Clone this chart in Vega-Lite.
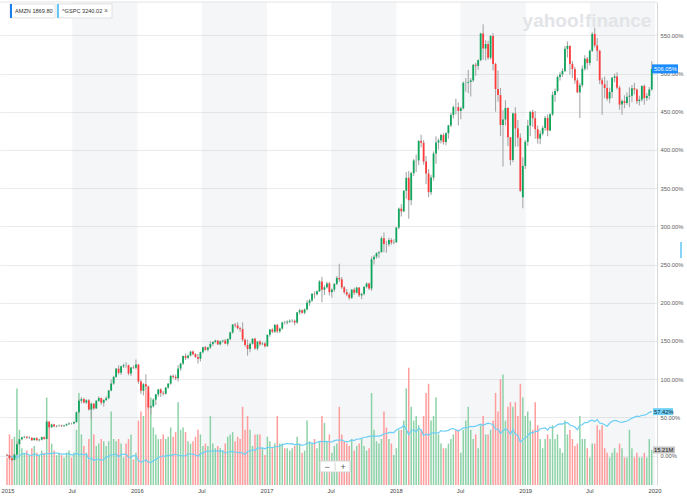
{
  "$schema": "https://vega.github.io/schema/vega-lite/v6.json",
  "width": 657,
  "height": 483,
  "autosize": "none",
  "padding": {"left": 0, "top": 2, "right": 30, "bottom": 15},
  "background": "#ffffff",
  "config": {"view": {"stroke": null}, "font": "Liberation Sans"},
  "datasets": {
    "halves": [
      {"a": "2015-07-01", "b": "2016-01-01"},
      {"a": "2016-07-01", "b": "2017-01-01"},
      {"a": "2017-07-01", "b": "2018-01-01"},
      {"a": "2018-07-01", "b": "2019-01-01"},
      {"a": "2019-07-01", "b": "2020-01-01"}
    ],
    "dateTicks": [
      {"t": "2015-01-01", "lab": "2015"},
      {"t": "2015-07-01", "lab": "Jul"},
      {"t": "2016-01-01", "lab": "2016"},
      {"t": "2016-07-01", "lab": "Jul"},
      {"t": "2017-01-01", "lab": "2017"},
      {"t": "2017-07-01", "lab": "Jul"},
      {"t": "2018-01-01", "lab": "2018"},
      {"t": "2018-07-01", "lab": "Jul"},
      {"t": "2019-01-01", "lab": "2019"},
      {"t": "2019-07-01", "lab": "Jul"},
      {"t": "2020-01-01", "lab": "2020"}
    ],
    "weekly": [
      {"d":"2014-12-29","o":1.0,"h":2.0,"l":-0.5,"c":0.0,"v":12,"s":0.0},
      {"d":"2015-01-05","o":0.0,"h":0.8,"l":-6.0,"c":-3.8,"v":22,"s":-0.7},
      {"d":"2015-01-12","o":-3.8,"h":-1.5,"l":-7.8,"c":-5.8,"v":20,"s":-1.9},
      {"d":"2015-01-19","o":-5.8,"h":2.5,"l":-6.5,"c":1.3,"v":21,"s":-0.3},
      {"d":"2015-01-26","o":1.3,"h":18.0,"l":-0.5,"c":14.9,"v":42,"s":-3.1},
      {"d":"2015-02-02","o":14.9,"h":22.5,"l":13.5,"c":21.3,"v":24,"s":-0.1},
      {"d":"2015-02-09","o":21.3,"h":25.0,"l":20.0,"c":23.8,"v":16,"s":1.9},
      {"d":"2015-02-16","o":23.8,"h":26.0,"l":22.5,"c":24.4,"v":14,"s":2.5},
      {"d":"2015-02-23","o":24.4,"h":26.0,"l":22.0,"c":23.2,"v":15,"s":2.3},
      {"d":"2015-03-02","o":23.0,"h":25.5,"l":21.5,"c":23.2,"v":13,"s":0.6},
      {"d":"2015-03-09","o":23.2,"h":24.0,"l":19.0,"c":20.1,"v":16,"s":-0.2},
      {"d":"2015-03-16","o":20.1,"h":23.5,"l":19.5,"c":22.7,"v":17,"s":2.4},
      {"d":"2015-03-23","o":22.7,"h":24.0,"l":19.0,"c":20.1,"v":14,"s":0.1},
      {"d":"2015-03-30","o":20.1,"h":21.8,"l":18.5,"c":20.7,"v":13,"s":0.4},
      {"d":"2015-04-06","o":20.7,"h":25.0,"l":19.8,"c":24.0,"v":15,"s":2.1},
      {"d":"2015-04-13","o":24.0,"h":25.0,"l":20.5,"c":21.7,"v":14,"s":1.1},
      {"d":"2015-04-20","o":21.7,"h":46.5,"l":21.0,"c":44.3,"v":38,"s":2.9},
      {"d":"2015-04-27","o":44.3,"h":45.0,"l":35.5,"c":37.1,"v":26,"s":2.4},
      {"d":"2015-05-04","o":37.1,"h":41.5,"l":35.8,"c":40.6,"v":18,"s":2.8},
      {"d":"2015-05-11","o":40.6,"h":41.5,"l":37.0,"c":38.1,"v":15,"s":3.1},
      {"d":"2015-05-18","o":38.1,"h":40.0,"l":37.0,"c":38.6,"v":13,"s":3.3},
      {"d":"2015-05-25","o":38.6,"h":40.5,"l":37.5,"c":39.1,"v":14,"s":2.4},
      {"d":"2015-06-01","o":39.1,"h":40.5,"l":37.2,"c":38.4,"v":13,"s":1.7},
      {"d":"2015-06-08","o":38.4,"h":40.3,"l":37.5,"c":39.4,"v":12,"s":1.7},
      {"d":"2015-06-15","o":39.4,"h":42.0,"l":38.5,"c":41.0,"v":14,"s":2.5},
      {"d":"2015-06-22","o":41.0,"h":43.5,"l":40.2,"c":42.0,"v":15,"s":2.1},
      {"d":"2015-06-29","o":42.0,"h":43.0,"l":40.5,"c":41.9,"v":12,"s":0.9},
      {"d":"2015-07-06","o":41.9,"h":45.0,"l":40.8,"c":43.8,"v":14,"s":0.9},
      {"d":"2015-07-13","o":43.8,"h":57.5,"l":43.0,"c":56.6,"v":24,"s":3.3},
      {"d":"2015-07-20","o":56.6,"h":74.0,"l":55.0,"c":71.6,"v":40,"s":1.0},
      {"d":"2015-07-27","o":71.6,"h":76.5,"l":68.5,"c":73.8,"v":22,"s":2.2},
      {"d":"2015-08-03","o":73.8,"h":75.5,"l":68.0,"c":69.4,"v":17,"s":0.9},
      {"d":"2015-08-10","o":69.4,"h":73.5,"l":67.5,"c":72.3,"v":14,"s":1.6},
      {"d":"2015-08-17","o":72.3,"h":74.0,"l":59.0,"c":60.3,"v":20,"s":-4.2},
      {"d":"2015-08-24","o":60.3,"h":69.5,"l":47.0,"c":67.9,"v":34,"s":-3.4},
      {"d":"2015-08-31","o":67.9,"h":68.5,"l":59.5,"c":61.7,"v":22,"s":-6.7},
      {"d":"2015-09-07","o":61.7,"h":72.5,"l":61.0,"c":71.6,"v":17,"s":-4.7},
      {"d":"2015-09-14","o":71.6,"h":77.5,"l":70.0,"c":75.1,"v":18,"s":-4.9},
      {"d":"2015-09-21","o":75.1,"h":76.0,"l":66.5,"c":69.1,"v":20,"s":-6.2},
      {"d":"2015-09-28","o":69.1,"h":73.5,"l":64.0,"c":72.6,"v":19,"s":-5.2},
      {"d":"2015-10-05","o":72.6,"h":77.5,"l":71.5,"c":75.0,"v":17,"s":-2.1},
      {"d":"2015-10-12","o":75.0,"h":86.0,"l":73.5,"c":85.0,"v":19,"s":-1.2},
      {"d":"2015-10-19","o":85.0,"h":99.5,"l":84.0,"c":94.2,"v":32,"s":0.8},
      {"d":"2015-10-26","o":94.2,"h":104.5,"l":92.5,"c":102.9,"v":20,"s":1.0},
      {"d":"2015-11-02","o":102.9,"h":114.5,"l":101.5,"c":113.7,"v":19,"s":2.0},
      {"d":"2015-11-09","o":113.7,"h":118.0,"l":106.0,"c":108.2,"v":20,"s":-1.7},
      {"d":"2015-11-16","o":108.2,"h":117.5,"l":105.5,"c":116.7,"v":18,"s":1.5},
      {"d":"2015-11-23","o":116.7,"h":120.0,"l":114.5,"c":118.2,"v":12,"s":1.6},
      {"d":"2015-11-30","o":118.2,"h":122.0,"l":115.0,"c":118.0,"v":18,"s":1.6},
      {"d":"2015-12-07","o":118.0,"h":119.0,"l":105.0,"c":107.5,"v":20,"s":-2.2},
      {"d":"2015-12-14","o":107.5,"h":116.0,"l":104.0,"c":115.3,"v":22,"s":-2.6},
      {"d":"2015-12-21","o":115.3,"h":118.0,"l":113.0,"c":114.8,"v":11,"s":0.1},
      {"d":"2015-12-28","o":114.8,"h":125.7,"l":113.0,"c":119.1,"v":14,"s":-0.7},
      {"d":"2016-01-04","o":119.1,"h":119.5,"l":94.0,"c":96.8,"v":28,"s":-6.6},
      {"d":"2016-01-11","o":96.8,"h":99.5,"l":80.5,"c":84.8,"v":32,"s":-8.6},
      {"d":"2016-01-18","o":84.8,"h":95.0,"l":78.5,"c":93.3,"v":30,"s":-7.4},
      {"d":"2016-01-25","o":93.3,"h":106.5,"l":87.0,"c":90.3,"v":42,"s":-5.7},
      {"d":"2016-02-01","o":90.3,"h":91.5,"l":60.5,"c":62.8,"v":40,"s":-8.7},
      {"d":"2016-02-08","o":62.8,"h":66.0,"l":53.6,"c":64.4,"v":38,"s":-9.4},
      {"d":"2016-02-15","o":64.4,"h":75.0,"l":63.0,"c":73.1,"v":25,"s":-6.8},
      {"d":"2016-02-22","o":73.1,"h":80.5,"l":66.0,"c":80.0,"v":22,"s":-5.4},
      {"d":"2016-02-29","o":80.0,"h":87.5,"l":77.0,"c":86.4,"v":20,"s":-2.8},
      {"d":"2016-03-07","o":86.4,"h":88.0,"l":76.5,"c":81.8,"v":20,"s":-1.7},
      {"d":"2016-03-14","o":81.8,"h":84.5,"l":78.5,"c":80.9,"v":22,"s":-0.4},
      {"d":"2016-03-21","o":80.9,"h":89.5,"l":79.5,"c":89.0,"v":20,"s":-1.1},
      {"d":"2016-03-28","o":89.0,"h":95.0,"l":87.5,"c":94.0,"v":21,"s":0.7},
      {"d":"2016-04-04","o":94.0,"h":105.5,"l":92.5,"c":104.2,"v":25,"s":-0.5},
      {"d":"2016-04-11","o":104.2,"h":106.0,"l":100.5,"c":102.9,"v":21,"s":1.1},
      {"d":"2016-04-18","o":102.9,"h":106.0,"l":98.5,"c":101.1,"v":23,"s":1.6},
      {"d":"2016-04-25","o":101.1,"h":118.0,"l":97.0,"c":113.8,"v":36,"s":0.3},
      {"d":"2016-05-02","o":113.8,"h":121.5,"l":111.0,"c":120.3,"v":24,"s":-0.1},
      {"d":"2016-05-09","o":120.3,"h":131.0,"l":118.5,"c":130.1,"v":25,"s":-0.6},
      {"d":"2016-05-16","o":130.1,"h":133.5,"l":125.0,"c":127.8,"v":23,"s":-0.3},
      {"d":"2016-05-23","o":127.8,"h":132.0,"l":126.0,"c":130.9,"v":19,"s":2.0},
      {"d":"2016-05-30","o":130.9,"h":137.0,"l":129.5,"c":136.0,"v":18,"s":2.0},
      {"d":"2016-06-06","o":136.0,"h":137.5,"l":131.0,"c":132.7,"v":19,"s":1.8},
      {"d":"2016-06-13","o":132.7,"h":134.0,"l":127.5,"c":129.0,"v":21,"s":0.6},
      {"d":"2016-06-20","o":129.0,"h":133.0,"l":120.5,"c":126.6,"v":24,"s":-1.0},
      {"d":"2016-06-27","o":126.6,"h":136.0,"l":123.0,"c":135.2,"v":22,"s":2.2},
      {"d":"2016-07-04","o":135.2,"h":142.5,"l":133.5,"c":141.7,"v":17,"s":3.5},
      {"d":"2016-07-11","o":141.7,"h":143.5,"l":137.0,"c":138.4,"v":18,"s":5.0},
      {"d":"2016-07-18","o":138.4,"h":142.5,"l":136.0,"c":141.4,"v":17,"s":5.7},
      {"d":"2016-07-25","o":141.4,"h":149.5,"l":139.5,"c":146.0,"v":30,"s":5.6},
      {"d":"2016-08-01","o":146.0,"h":149.5,"l":143.5,"c":148.5,"v":18,"s":6.1},
      {"d":"2016-08-08","o":148.5,"h":151.5,"l":147.0,"c":150.4,"v":16,"s":6.1},
      {"d":"2016-08-15","o":150.4,"h":151.0,"l":144.5,"c":145.5,"v":17,"s":6.1},
      {"d":"2016-08-22","o":145.5,"h":150.5,"l":144.0,"c":149.4,"v":16,"s":5.4},
      {"d":"2016-08-29","o":149.4,"h":151.5,"l":147.5,"c":150.4,"v":15,"s":5.9},
      {"d":"2016-09-05","o":150.4,"h":152.5,"l":145.5,"c":146.4,"v":18,"s":3.4},
      {"d":"2016-09-12","o":146.4,"h":153.5,"l":143.5,"c":152.3,"v":21,"s":3.9},
      {"d":"2016-09-19","o":152.3,"h":162.0,"l":151.0,"c":161.2,"v":22,"s":5.2},
      {"d":"2016-09-26","o":161.2,"h":172.0,"l":159.5,"c":171.4,"v":23,"s":5.3},
      {"d":"2016-10-03","o":171.4,"h":173.5,"l":167.5,"c":170.3,"v":19,"s":4.6},
      {"d":"2016-10-10","o":170.3,"h":174.5,"l":165.0,"c":166.7,"v":21,"s":3.6},
      {"d":"2016-10-17","o":166.7,"h":168.5,"l":162.0,"c":165.5,"v":20,"s":4.0},
      {"d":"2016-10-24","o":165.5,"h":174.5,"l":149.0,"c":151.6,"v":34,"s":3.3},
      {"d":"2016-10-31","o":151.6,"h":153.0,"l":142.5,"c":144.7,"v":24,"s":1.3},
      {"d":"2016-11-07","o":144.7,"h":152.0,"l":130.5,"c":139.5,"v":30,"s":5.2},
      {"d":"2016-11-14","o":139.5,"h":148.0,"l":135.0,"c":146.4,"v":24,"s":6.0},
      {"d":"2016-11-21","o":146.4,"h":153.5,"l":145.0,"c":152.9,"v":17,"s":7.5},
      {"d":"2016-11-28","o":152.9,"h":154.0,"l":138.5,"c":140.0,"v":22,"s":6.5},
      {"d":"2016-12-05","o":140.0,"h":150.0,"l":137.5,"c":149.1,"v":22,"s":9.8},
      {"d":"2016-12-12","o":149.1,"h":151.0,"l":143.5,"c":145.6,"v":22,"s":9.7},
      {"d":"2016-12-19","o":145.6,"h":148.5,"l":144.5,"c":146.5,"v":16,"s":10.0},
      {"d":"2016-12-26","o":146.5,"h":148.5,"l":141.5,"c":143.1,"v":13,"s":8.8},
      {"d":"2017-01-02","o":143.1,"h":158.5,"l":142.0,"c":158.0,"v":21,"s":10.6},
      {"d":"2017-01-09","o":158.0,"h":165.5,"l":155.5,"c":164.9,"v":19,"s":10.5},
      {"d":"2017-01-16","o":164.9,"h":166.5,"l":160.0,"c":162.0,"v":16,"s":10.4},
      {"d":"2017-01-23","o":162.0,"h":172.0,"l":160.5,"c":170.9,"v":18,"s":11.5},
      {"d":"2017-01-30","o":170.9,"h":172.5,"l":160.0,"c":162.6,"v":30,"s":11.6},
      {"d":"2017-02-06","o":162.6,"h":167.5,"l":160.5,"c":166.2,"v":18,"s":12.5},
      {"d":"2017-02-13","o":166.2,"h":175.0,"l":164.5,"c":174.2,"v":18,"s":14.2},
      {"d":"2017-02-20","o":174.2,"h":176.5,"l":171.5,"c":174.0,"v":16,"s":15.0},
      {"d":"2017-02-27","o":174.0,"h":177.0,"l":171.5,"c":175.2,"v":16,"s":15.8},
      {"d":"2017-03-06","o":175.2,"h":178.0,"l":173.5,"c":176.3,"v":15,"s":15.3},
      {"d":"2017-03-13","o":176.0,"h":178.5,"l":174.0,"c":176.3,"v":16,"s":15.5},
      {"d":"2017-03-20","o":176.3,"h":178.0,"l":170.5,"c":174.1,"v":17,"s":13.9},
      {"d":"2017-03-27","o":174.1,"h":188.0,"l":172.5,"c":187.4,"v":21,"s":14.8},
      {"d":"2017-04-03","o":187.4,"h":192.0,"l":184.5,"c":190.1,"v":18,"s":14.4},
      {"d":"2017-04-10","o":190.1,"h":191.0,"l":185.5,"c":186.8,"v":14,"s":13.2},
      {"d":"2017-04-17","o":186.8,"h":192.5,"l":185.0,"c":191.2,"v":15,"s":14.1},
      {"d":"2017-04-24","o":191.2,"h":203.5,"l":190.0,"c":199.8,"v":28,"s":15.8},
      {"d":"2017-05-01","o":199.8,"h":205.0,"l":196.0,"c":202.8,"v":19,"s":16.6},
      {"d":"2017-05-08","o":202.8,"h":212.5,"l":201.0,"c":211.6,"v":18,"s":16.2},
      {"d":"2017-05-15","o":211.6,"h":215.0,"l":205.5,"c":211.1,"v":20,"s":15.7},
      {"d":"2017-05-22","o":211.1,"h":216.0,"l":209.5,"c":214.9,"v":16,"s":17.4},
      {"d":"2017-05-29","o":214.9,"h":229.5,"l":214.0,"c":227.8,"v":19,"s":18.5},
      {"d":"2017-06-05","o":227.8,"h":234.0,"l":200.5,"c":217.1,"v":30,"s":18.1},
      {"d":"2017-06-12","o":217.1,"h":223.0,"l":210.0,"c":220.1,"v":27,"s":18.2},
      {"d":"2017-06-19","o":220.1,"h":227.5,"l":218.5,"c":225.3,"v":19,"s":18.5},
      {"d":"2017-06-26","o":225.3,"h":227.0,"l":209.5,"c":213.8,"v":22,"s":17.7},
      {"d":"2017-07-03","o":213.8,"h":218.5,"l":206.5,"c":217.2,"v":14,"s":17.8},
      {"d":"2017-07-10","o":217.2,"h":225.5,"l":214.0,"c":224.7,"v":17,"s":19.5},
      {"d":"2017-07-17","o":224.7,"h":235.0,"l":223.0,"c":232.5,"v":18,"s":20.1},
      {"d":"2017-07-24","o":232.5,"h":251.1,"l":227.0,"c":230.6,"v":34,"s":20.1},
      {"d":"2017-07-31","o":230.6,"h":233.5,"l":218.0,"c":220.1,"v":22,"s":20.3},
      {"d":"2017-08-07","o":220.1,"h":222.0,"l":211.5,"c":213.8,"v":19,"s":18.6},
      {"d":"2017-08-14","o":213.8,"h":218.0,"l":208.5,"c":210.7,"v":18,"s":17.8},
      {"d":"2017-08-21","o":210.7,"h":213.5,"l":204.0,"c":206.4,"v":17,"s":18.7},
      {"d":"2017-08-28","o":206.4,"h":218.0,"l":205.0,"c":217.1,"v":20,"s":20.3},
      {"d":"2017-09-04","o":217.1,"h":219.5,"l":210.5,"c":213.1,"v":15,"s":19.6},
      {"d":"2017-09-11","o":213.1,"h":221.0,"l":212.0,"c":219.8,"v":17,"s":21.5},
      {"d":"2017-09-18","o":219.8,"h":220.5,"l":207.5,"c":209.6,"v":18,"s":21.6},
      {"d":"2017-09-25","o":209.6,"h":213.0,"l":204.5,"c":211.6,"v":20,"s":22.4},
      {"d":"2017-10-02","o":211.6,"h":221.5,"l":209.5,"c":220.8,"v":17,"s":23.9},
      {"d":"2017-10-09","o":220.8,"h":226.5,"l":219.0,"c":225.1,"v":15,"s":24.0},
      {"d":"2017-10-16","o":225.1,"h":226.0,"l":216.5,"c":218.6,"v":16,"s":25.1},
      {"d":"2017-10-23","o":218.6,"h":260.5,"l":215.5,"c":256.9,"v":40,"s":25.4},
      {"d":"2017-10-30","o":256.9,"h":262.5,"l":250.0,"c":260.3,"v":24,"s":25.7},
      {"d":"2017-11-06","o":260.3,"h":266.0,"l":257.5,"c":264.8,"v":19,"s":25.5},
      {"d":"2017-11-13","o":264.8,"h":268.0,"l":258.5,"c":266.2,"v":18,"s":25.3},
      {"d":"2017-11-20","o":266.2,"h":287.0,"l":265.5,"c":284.4,"v":20,"s":26.4},
      {"d":"2017-11-27","o":284.4,"h":292.0,"l":266.0,"c":276.8,"v":32,"s":28.4},
      {"d":"2017-12-04","o":276.8,"h":281.0,"l":265.5,"c":276.6,"v":25,"s":28.8},
      {"d":"2017-12-11","o":276.6,"h":285.0,"l":273.5,"c":282.2,"v":20,"s":30.0},
      {"d":"2017-12-18","o":282.2,"h":284.5,"l":276.0,"c":278.7,"v":18,"s":30.4},
      {"d":"2017-12-25","o":278.7,"h":283.0,"l":276.5,"c":279.1,"v":13,"s":29.9},
      {"d":"2018-01-01","o":279.1,"h":299.0,"l":278.5,"c":298.4,"v":16,"s":33.3},
      {"d":"2018-01-08","o":298.4,"h":324.5,"l":296.0,"c":323.1,"v":24,"s":35.4},
      {"d":"2018-01-15","o":323.1,"h":329.0,"l":313.0,"c":319.6,"v":24,"s":36.5},
      {"d":"2018-01-22","o":319.6,"h":347.0,"l":318.5,"c":346.6,"v":28,"s":39.6},
      {"d":"2018-01-29","o":346.6,"h":371.0,"l":336.0,"c":363.5,"v":42,"s":34.2},
      {"d":"2018-02-05","o":363.5,"h":372.5,"l":310.0,"c":334.2,"v":51,"s":27.3},
      {"d":"2018-02-12","o":334.2,"h":371.5,"l":327.5,"c":369.6,"v":34,"s":32.7},
      {"d":"2018-02-19","o":369.6,"h":388.0,"l":366.0,"c":386.2,"v":28,"s":33.5},
      {"d":"2018-02-26","o":386.2,"h":394.0,"l":371.0,"c":386.3,"v":30,"s":30.8},
      {"d":"2018-03-05","o":386.3,"h":412.5,"l":380.0,"c":411.8,"v":26,"s":35.4},
      {"d":"2018-03-12","o":411.8,"h":420.0,"l":403.5,"c":409.4,"v":24,"s":33.7},
      {"d":"2018-03-19","o":409.4,"h":413.0,"l":380.5,"c":384.8,"v":30,"s":25.8},
      {"d":"2018-03-26","o":384.8,"h":392.0,"l":355.0,"c":369.1,"v":40,"s":28.3},
      {"d":"2018-04-02","o":369.1,"h":375.0,"l":338.2,"c":344.7,"v":44,"s":26.5},
      {"d":"2018-04-09","o":344.7,"h":367.5,"l":341.0,"c":363.8,"v":28,"s":29.1},
      {"d":"2018-04-16","o":363.8,"h":398.0,"l":360.0,"c":395.2,"v":30,"s":29.7},
      {"d":"2018-04-23","o":395.2,"h":418.0,"l":382.0,"c":409.7,"v":38,"s":29.7},
      {"d":"2018-04-30","o":409.7,"h":415.0,"l":400.5,"c":412.4,"v":22,"s":29.4},
      {"d":"2018-05-07","o":412.4,"h":421.0,"l":408.5,"c":419.6,"v":18,"s":32.5},
      {"d":"2018-05-14","o":419.6,"h":422.0,"l":407.0,"c":410.3,"v":16,"s":31.8},
      {"d":"2018-05-21","o":410.3,"h":423.0,"l":406.0,"c":421.9,"v":16,"s":32.2},
      {"d":"2018-05-28","o":421.9,"h":433.0,"l":414.5,"c":432.1,"v":18,"s":32.9},
      {"d":"2018-06-04","o":432.1,"h":448.5,"l":430.0,"c":445.8,"v":20,"s":35.0},
      {"d":"2018-06-11","o":445.8,"h":458.0,"l":441.0,"c":456.2,"v":22,"s":35.1},
      {"d":"2018-06-18","o":456.2,"h":467.0,"l":446.5,"c":456.1,"v":24,"s":33.8},
      {"d":"2018-06-25","o":456.1,"h":462.5,"l":432.0,"c":451.0,"v":24,"s":32.1},
      {"d":"2018-07-02","o":451.0,"h":456.5,"l":440.0,"c":454.5,"v":14,"s":34.1},
      {"d":"2018-07-09","o":454.5,"h":489.5,"l":453.0,"c":487.7,"v":24,"s":36.1},
      {"d":"2018-07-16","o":487.7,"h":494.0,"l":476.0,"c":487.9,"v":28,"s":36.1},
      {"d":"2018-07-23","o":487.9,"h":504.5,"l":474.0,"c":489.0,"v":34,"s":37.0},
      {"d":"2018-07-30","o":489.0,"h":494.0,"l":470.0,"c":491.0,"v":24,"s":38.0},
      {"d":"2018-08-06","o":491.0,"h":512.5,"l":489.0,"c":511.4,"v":20,"s":37.7},
      {"d":"2018-08-13","o":511.4,"h":514.0,"l":497.0,"c":510.1,"v":22,"s":38.5},
      {"d":"2018-08-20","o":510.1,"h":518.5,"l":505.0,"c":517.6,"v":16,"s":39.7},
      {"d":"2018-08-27","o":517.6,"h":553.5,"l":516.0,"c":552.4,"v":26,"s":41.0},
      {"d":"2018-09-03","o":552.4,"h":564.6,"l":518.0,"c":532.7,"v":30,"s":39.5},
      {"d":"2018-09-10","o":532.7,"h":543.5,"l":517.0,"c":538.6,"v":22,"s":41.1},
      {"d":"2018-09-17","o":538.6,"h":543.0,"l":518.0,"c":520.7,"v":22,"s":42.3},
      {"d":"2018-09-24","o":520.7,"h":550.5,"l":518.5,"c":549.2,"v":24,"s":41.6},
      {"d":"2018-10-01","o":549.2,"h":553.0,"l":504.0,"c":512.5,"v":28,"s":40.2},
      {"d":"2018-10-08","o":512.5,"h":514.0,"l":450.0,"c":479.7,"v":40,"s":34.4},
      {"d":"2018-10-15","o":479.7,"h":503.5,"l":463.0,"c":471.8,"v":32,"s":34.5},
      {"d":"2018-10-22","o":471.8,"h":481.0,"l":418.0,"c":432.5,"v":46,"s":29.2},
      {"d":"2018-10-29","o":432.5,"h":452.0,"l":378.4,"c":439.8,"v":48,"s":32.3},
      {"d":"2018-11-05","o":439.8,"h":465.0,"l":432.0,"c":455.0,"v":28,"s":35.1},
      {"d":"2018-11-12","o":455.0,"h":456.0,"l":405.0,"c":416.5,"v":34,"s":32.9},
      {"d":"2018-11-19","o":416.5,"h":417.0,"l":380.0,"c":386.9,"v":36,"s":27.9},
      {"d":"2018-11-26","o":386.9,"h":449.0,"l":384.0,"c":447.8,"v":34,"s":34.1},
      {"d":"2018-12-03","o":447.8,"h":456.0,"l":404.0,"c":428.1,"v":36,"s":27.9},
      {"d":"2018-12-10","o":428.1,"h":439.0,"l":404.5,"c":416.0,"v":30,"s":26.3},
      {"d":"2018-12-17","o":416.0,"h":421.5,"l":345.0,"c":346.5,"v":44,"s":17.4},
      {"d":"2018-12-24","o":338.0,"h":390.5,"l":323.6,"c":379.1,"v":38,"s":20.8},
      {"d":"2018-12-31","o":379.1,"h":413.0,"l":375.0,"c":410.6,"v":30,"s":23.0},
      {"d":"2019-01-07","o":410.6,"h":439.5,"l":405.5,"c":431.8,"v":32,"s":26.1},
      {"d":"2019-01-14","o":431.8,"h":451.0,"l":418.0,"c":449.8,"v":28,"s":29.8},
      {"d":"2019-01-21","o":449.8,"h":452.5,"l":430.0,"c":441.5,"v":24,"s":29.5},
      {"d":"2019-01-28","o":441.5,"h":451.0,"l":414.5,"c":427.1,"v":36,"s":31.5},
      {"d":"2019-02-04","o":427.1,"h":432.0,"l":408.0,"c":414.8,"v":26,"s":31.6},
      {"d":"2019-02-11","o":414.8,"h":425.5,"l":407.5,"c":421.2,"v":20,"s":34.9},
      {"d":"2019-02-18","o":421.2,"h":431.5,"l":419.0,"c":428.8,"v":16,"s":35.7},
      {"d":"2019-02-25","o":428.8,"h":444.5,"l":425.0,"c":441.9,"v":20,"s":36.2},
      {"d":"2019-03-04","o":441.9,"h":446.5,"l":418.0,"c":425.4,"v":22,"s":33.3},
      {"d":"2019-03-11","o":425.4,"h":448.0,"l":424.5,"c":446.6,"v":20,"s":37.1},
      {"d":"2019-03-18","o":446.6,"h":476.5,"l":444.5,"c":472.0,"v":26,"s":36.1},
      {"d":"2019-03-25","o":472.0,"h":480.5,"l":463.0,"c":477.2,"v":20,"s":37.7},
      {"d":"2019-04-01","o":477.2,"h":497.5,"l":475.0,"c":495.5,"v":22,"s":40.5},
      {"d":"2019-04-08","o":495.5,"h":502.0,"l":491.0,"c":498.8,"v":16,"s":41.3},
      {"d":"2019-04-15","o":498.8,"h":507.0,"l":495.5,"c":503.4,"v":14,"s":41.1},
      {"d":"2019-04-22","o":503.4,"h":536.0,"l":502.0,"c":532.3,"v":28,"s":42.8},
      {"d":"2019-04-29","o":532.3,"h":542.0,"l":521.0,"c":536.1,"v":22,"s":43.1},
      {"d":"2019-05-06","o":536.1,"h":537.0,"l":498.5,"c":512.6,"v":24,"s":40.0},
      {"d":"2019-05-13","o":512.6,"h":516.5,"l":494.0,"c":505.8,"v":20,"s":38.9},
      {"d":"2019-05-20","o":505.8,"h":509.0,"l":486.5,"c":491.0,"v":17,"s":37.3},
      {"d":"2019-05-27","o":491.0,"h":494.5,"l":474.0,"c":475.4,"v":18,"s":33.7},
      {"d":"2019-06-03","o":475.4,"h":488.0,"l":441.9,"c":484.7,"v":30,"s":39.6},
      {"d":"2019-06-10","o":484.7,"h":510.5,"l":482.0,"c":506.2,"v":20,"s":40.3},
      {"d":"2019-06-17","o":506.2,"h":524.0,"l":503.5,"c":519.5,"v":20,"s":43.4},
      {"d":"2019-06-24","o":519.5,"h":521.5,"l":505.0,"c":513.8,"v":16,"s":42.9},
      {"d":"2019-07-01","o":513.8,"h":531.0,"l":510.5,"c":529.8,"v":12,"s":45.3},
      {"d":"2019-07-08","o":529.8,"h":554.0,"l":528.0,"c":551.8,"v":18,"s":46.4},
      {"d":"2019-07-15","o":551.8,"h":559.9,"l":534.0,"c":536.8,"v":18,"s":44.6},
      {"d":"2019-07-22","o":536.8,"h":546.5,"l":516.5,"c":529.8,"v":26,"s":47.0},
      {"d":"2019-07-29","o":529.8,"h":531.0,"l":486.0,"c":491.0,"v":24,"s":42.5},
      {"d":"2019-08-05","o":491.0,"h":494.5,"l":446.0,"c":485.9,"v":26,"s":41.8},
      {"d":"2019-08-12","o":485.9,"h":496.0,"l":467.5,"c":481.0,"v":16,"s":40.3},
      {"d":"2019-08-19","o":481.0,"h":491.0,"l":464.5,"c":467.1,"v":14,"s":38.3},
      {"d":"2019-08-26","o":467.1,"h":481.5,"l":461.0,"c":475.7,"v":12,"s":42.2},
      {"d":"2019-09-02","o":475.7,"h":495.5,"l":468.0,"c":494.3,"v":14,"s":44.7},
      {"d":"2019-09-09","o":494.3,"h":500.0,"l":488.5,"c":496.2,"v":16,"s":46.1},
      {"d":"2019-09-16","o":496.2,"h":501.5,"l":479.0,"c":481.5,"v":14,"s":45.4},
      {"d":"2019-09-23","o":481.5,"h":484.0,"l":452.5,"c":459.3,"v":18,"s":43.9},
      {"d":"2019-09-30","o":459.3,"h":466.0,"l":446.0,"c":463.9,"v":16,"s":43.4},
      {"d":"2019-10-07","o":463.9,"h":471.5,"l":454.5,"c":461.4,"v":12,"s":44.3},
      {"d":"2019-10-14","o":461.4,"h":475.0,"l":459.0,"c":469.7,"v":12,"s":45.1},
      {"d":"2019-10-21","o":469.7,"h":482.0,"l":456.0,"c":470.9,"v":24,"s":46.9},
      {"d":"2019-10-28","o":470.9,"h":485.0,"l":462.5,"c":480.7,"v":16,"s":49.0},
      {"d":"2019-11-04","o":480.7,"h":488.0,"l":473.0,"c":478.9,"v":12,"s":50.3},
      {"d":"2019-11-11","o":478.9,"h":480.5,"l":460.0,"c":463.8,"v":14,"s":51.6},
      {"d":"2019-11-18","o":463.8,"h":471.0,"l":458.0,"c":465.8,"v":12,"s":51.1},
      {"d":"2019-11-25","o":465.8,"h":484.5,"l":463.5,"c":483.7,"v":12,"s":52.6},
      {"d":"2019-12-02","o":483.7,"h":485.5,"l":459.0,"c":467.8,"v":14,"s":52.8},
      {"d":"2019-12-09","o":467.8,"h":474.0,"l":464.0,"c":470.8,"v":12,"s":54.0},
      {"d":"2019-12-16","o":470.8,"h":482.5,"l":466.0,"c":479.1,"v":20,"s":56.5},
      {"d":"2019-12-23","o":479.1,"h":516.0,"l":477.5,"c":506.05,"v":15.21,"s":57.42}
    ]
  },
  "layer": [
    {
      "description": "Alternate half-year shading (July to December)",
      "data": {"name": "halves"},
      "mark": {"type": "rect", "color": "#3c5a78", "opacity": 0.055, "clip": true},
      "encoding": {
        "x": {"field": "a", "type": "temporal", "scale": {"type": "utc", "domain": [{"year": 2014, "month": 12, "date": 23, "hours": 8, "utc": true}, {"year": 2019, "month": 12, "date": 23, "hours": 16, "utc": true}]}, "axis": null},
        "x2": {"field": "b"}
      }
    },
    {
      "description": "Date labels under the plot (half-year steps)",
      "data": {"name": "dateTicks"},
      "mark": {"type": "text", "align": "center", "baseline": "middle", "fontSize": 5.8, "color": "#444444"},
      "encoding": {
        "x": {"field": "t", "type": "temporal", "scale": {"type": "utc", "domain": [{"year": 2014, "month": 12, "date": 23, "hours": 8, "utc": true}, {"year": 2019, "month": 12, "date": 23, "hours": 16, "utc": true}]}, "axis": null},
        "y": {"datum": -46.5, "type": "quantitative", "scale": {"domain": [-38.6, 593.6], "nice": false, "zero": false}, "axis": null},
        "text": {"field": "lab"}
      }
    },
    {
      "description": "Top border",
      "data": {"values": [{}]},
      "mark": {"type": "rule", "color": "#e4e4e4", "strokeWidth": 1},
      "encoding": {
        "y": {"datum": 593.6, "type": "quantitative", "scale": {"domain": [-38.6, 593.6], "nice": false, "zero": false}, "axis": null}
      }
    },
    {
      "description": "Watermark",
      "data": {"values": [{}]},
      "mark": {"type": "text", "text": "yahoo!finance", "align": "right", "baseline": "alphabetic", "fontSize": 19, "fontWeight": "bold", "color": "#e2e4e7"},
      "encoding": {
        "x": {"datum": {"year": 2019, "month": 12, "date": 22, "utc": true}, "type": "temporal", "scale": {"type": "utc", "domain": [{"year": 2014, "month": 12, "date": 23, "hours": 8, "utc": true}, {"year": 2019, "month": 12, "date": 23, "hours": 16, "utc": true}]}, "axis": null},
        "y": {"datum": 560.9, "type": "quantitative", "scale": {"domain": [-38.6, 593.6], "nice": false, "zero": false}, "axis": null}
      }
    },
    {
      "description": "Weekly AMZN candles, volume and S&P 500 comparison, in % change",
      "data": {"name": "weekly"},
      "encoding": {
        "x": {
          "field": "d", "type": "temporal",
          "scale": {"type": "utc", "domain": [{"year": 2014, "month": 12, "date": 23, "hours": 8, "utc": true}, {"year": 2019, "month": 12, "date": 23, "hours": 16, "utc": true}]},
          "axis": null
        }
      },
      "layer": [
        {
          "mark": {"type": "bar", "size": 1.5},
          "encoding": {
            "y": {"field": "v", "type": "quantitative", "scale": {"domain": [0, 210], "nice": false}, "axis": null},
            "color": {"condition": {"test": "datum.c >= datum.o", "value": "#8dd2a7"}, "value": "#ff9c9c"}
          }
        },
        {
          "mark": {"type": "line", "color": "#6dcff6", "strokeWidth": 1.2},
          "encoding": {
            "y": {"field": "s", "type": "quantitative", "scale": {"domain": [-38.6, 593.6], "nice": false, "zero": false}, "axis": null}
          }
        },
        {
          "mark": {"type": "rule", "color": "#a8a8a8", "strokeWidth": 1.1},
          "encoding": {
            "y": {"field": "l", "type": "quantitative", "scale": {"domain": [-38.6, 593.6], "nice": false, "zero": false}, "axis": null},
            "y2": {"field": "h"}
          }
        },
        {
          "mark": {"type": "bar", "size": 1.8},
          "encoding": {
            "y": {
              "field": "o", "type": "quantitative",
              "scale": {"domain": [-38.6, 593.6], "nice": false, "zero": false},
              "axis": {
                "orient": "right", "title": null,
                "values": [0, 50, 100, 150, 200, 250, 300, 350, 400, 450, 500, 550],
                "labelExpr": "format(datum.value, '.2f') + '%'",
                "grid": true, "gridColor": "#ebebeb", "gridWidth": 1,
                "domain": true, "domainColor": "#d8d8d8", "ticks": false,
                "labelFontSize": 5.8, "labelColor": "#5c5c5c", "labelPadding": 3,
                "labelFlush": false, "labelOverlap": false
              }
            },
            "y2": {"field": "c"},
            "color": {"condition": {"test": "datum.c >= datum.o", "value": "#0ea55c"}, "value": "#ff3b3b"}
          }
        }
      ],
      "resolve": {"scale": {"y": "independent"}}
    },
    {
      "description": "Series legend chips",
      "data": {"values": [{}]},
      "encoding": {
        "x": {"datum": {"year": 2014, "month": 12, "date": 23, "hours": 8, "utc": true}, "type": "temporal", "scale": {"type": "utc", "domain": [{"year": 2014, "month": 12, "date": 23, "hours": 8, "utc": true}, {"year": 2019, "month": 12, "date": 23, "hours": 16, "utc": true}]}, "axis": null},
        "y": {"datum": 581.9, "type": "quantitative", "scale": {"domain": [-38.6, 593.6], "nice": false, "zero": false}, "axis": null}
      },
      "layer": [
        {"mark": {"type": "point", "shape": "M5,-7H50V7H5Z", "size": 4, "filled": true, "fill": "#ffffff", "stroke": "#e0e0e0", "strokeWidth": 1, "opacity": 1}},
        {"mark": {"type": "point", "shape": "M5,-7H7V7H5Z", "size": 4, "filled": true, "color": "#1a7ff0", "opacity": 1}},
        {"mark": {"type": "point", "shape": "M52,-7H107V7H52Z", "size": 4, "filled": true, "fill": "#ffffff", "stroke": "#e0e0e0", "strokeWidth": 1, "opacity": 1}},
        {"mark": {"type": "point", "shape": "M52,-7H54V7H52Z", "size": 4, "filled": true, "color": "#62c8f5", "opacity": 1}},
        {"mark": {"type": "text", "text": "AMZN 1869.80", "align": "left", "baseline": "middle", "dx": 10, "fontSize": 5.6, "color": "#333333"}},
        {"mark": {"type": "text", "text": "^GSPC 3240.02", "align": "left", "baseline": "middle", "dx": 57, "fontSize": 5.6, "color": "#333333"}},
        {"mark": {"type": "text", "text": "×", "align": "left", "baseline": "middle", "dx": 99, "fontSize": 7, "color": "#666666"}}
      ]
    },
    {
      "description": "Last AMZN value tag",
      "data": {"values": [{"t": "506.05%", "y": 506.05}]},
      "encoding": {
        "x": {"datum": {"year": 2019, "month": 12, "date": 23, "hours": 16, "utc": true}, "type": "temporal", "scale": {"type": "utc", "domain": [{"year": 2014, "month": 12, "date": 23, "hours": 8, "utc": true}, {"year": 2019, "month": 12, "date": 23, "hours": 16, "utc": true}]}, "axis": null},
        "y": {"field": "y", "type": "quantitative", "scale": {"domain": [-38.6, 593.6], "nice": false, "zero": false}, "axis": null}
      },
      "layer": [
        {"mark": {"type": "point", "shape": "M0,-4.5H26V4.5H0Z", "size": 4, "filled": true, "color": "#1a8cff", "opacity": 1}},
        {"mark": {"type": "text", "align": "left", "baseline": "middle", "dx": 2, "fontSize": 5.8, "color": "#ffffff"}, "encoding": {"text": {"field": "t"}}}
      ]
    },
    {
      "description": "Last S&P 500 value tag",
      "data": {"values": [{"t": "57.42%", "y": 57.42}]},
      "encoding": {
        "x": {"datum": {"year": 2019, "month": 12, "date": 23, "hours": 16, "utc": true}, "type": "temporal", "scale": {"type": "utc", "domain": [{"year": 2014, "month": 12, "date": 23, "hours": 8, "utc": true}, {"year": 2019, "month": 12, "date": 23, "hours": 16, "utc": true}]}, "axis": null},
        "y": {"field": "y", "type": "quantitative", "scale": {"domain": [-38.6, 593.6], "nice": false, "zero": false}, "axis": null}
      },
      "layer": [
        {"mark": {"type": "point", "shape": "M1,-3.5H21V3.5H1Z", "size": 4, "filled": true, "color": "#70d2f8", "opacity": 1}},
        {"mark": {"type": "text", "align": "left", "baseline": "middle", "dx": 2, "fontSize": 5.8, "color": "#15232e"}, "encoding": {"text": {"field": "t"}}}
      ]
    },
    {
      "description": "Last volume tag",
      "data": {"values": [{"t": "15.21M", "v": 15.21}]},
      "encoding": {
        "x": {"datum": {"year": 2019, "month": 12, "date": 23, "hours": 16, "utc": true}, "type": "temporal", "scale": {"type": "utc", "domain": [{"year": 2014, "month": 12, "date": 23, "hours": 8, "utc": true}, {"year": 2019, "month": 12, "date": 23, "hours": 16, "utc": true}]}, "axis": null},
        "y": {"field": "v", "type": "quantitative", "scale": {"domain": [0, 210], "nice": false}, "axis": null}
      },
      "layer": [
        {"mark": {"type": "point", "shape": "M1,-3.5H23V3.5H1Z", "size": 4, "filled": true, "color": "#c4c4c4", "opacity": 1}},
        {"mark": {"type": "text", "align": "left", "baseline": "middle", "dx": 2, "fontSize": 5.8, "color": "#222222"}, "encoding": {"text": {"field": "t"}}}
      ]
    },
    {
      "description": "Zoom buttons",
      "data": {"values": [{}]},
      "encoding": {
        "x": {"datum": {"year": 2017, "month": 7, "date": 12, "utc": true}, "type": "temporal", "scale": {"type": "utc", "domain": [{"year": 2014, "month": 12, "date": 23, "hours": 8, "utc": true}, {"year": 2019, "month": 12, "date": 23, "hours": 16, "utc": true}]}, "axis": null},
        "y": {"datum": -14.4, "type": "quantitative", "scale": {"domain": [-38.6, 593.6], "nice": false, "zero": false}, "axis": null}
      },
      "layer": [
        {"mark": {"type": "point", "shape": "M-15,-5.5H15V5.5H-15Z", "size": 4, "filled": true, "fill": "#ffffff", "stroke": "#d4d4d4", "strokeWidth": 1, "opacity": 1}},
        {"mark": {"type": "point", "shape": "M0,-4V4", "size": 4, "filled": false, "stroke": "#d4d4d4", "strokeWidth": 1, "opacity": 1}},
        {"mark": {"type": "text", "text": "−", "align": "center", "baseline": "middle", "dx": -8, "fontSize": 9, "color": "#555555"}},
        {"mark": {"type": "text", "text": "+", "align": "center", "baseline": "middle", "dx": 8, "fontSize": 9, "color": "#555555"}}
      ]
    },
    {
      "description": "Side panel handle",
      "data": {"values": [{}]},
      "mark": {"type": "point", "shape": "M28,-8H30V8H28Z", "size": 4, "filled": true, "color": "#86d4f7", "opacity": 1},
      "encoding": {
        "x": {"datum": {"year": 2019, "month": 12, "date": 23, "hours": 16, "utc": true}, "type": "temporal", "scale": {"type": "utc", "domain": [{"year": 2014, "month": 12, "date": 23, "hours": 8, "utc": true}, {"year": 2019, "month": 12, "date": 23, "hours": 16, "utc": true}]}, "axis": null},
        "y": {"datum": 269.0, "type": "quantitative", "scale": {"domain": [-38.6, 593.6], "nice": false, "zero": false}, "axis": null}
      }
    }
  ],
  "resolve": {"scale": {"y": "independent"}}
}
